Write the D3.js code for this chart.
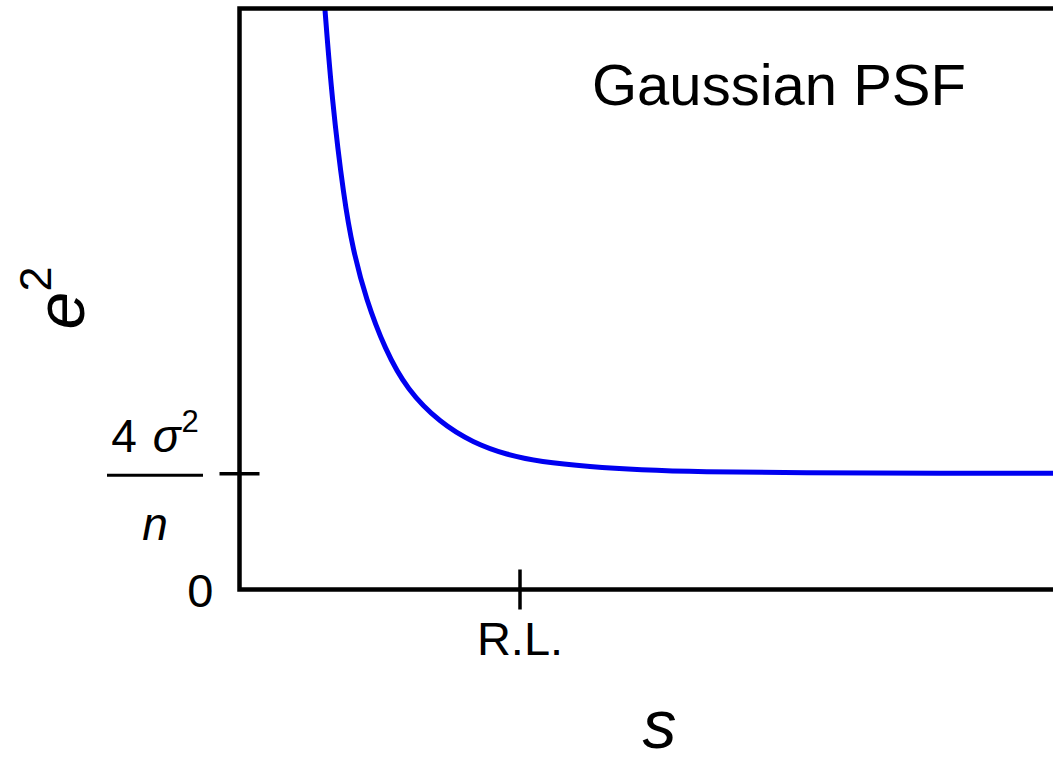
<!DOCTYPE html>
<html>
<head>
<meta charset="utf-8">
<script src="https://cdn.jsdelivr.net/npm/d3@7"></script>
<style>
  html, body { margin: 0; padding: 0; background: #fff; }
  svg { display: block; font-family: "Liberation Sans", Arial, sans-serif; }
</style>
</head>
<body>
<div id="chart"></div>
<script>
// data (s in units of R.L., e2 in units of 4σ²/n)
var sValues  = [0.300, 0.305, 0.330, 0.373, 0.405, 0.452, 0.520, 0.598, 0.716, 0.834, 0.955, 1.073, 1.252, 1.430, 1.645, 2.002, 2.500, 3.000, 3.000];
var e2Values = [5.150, 5.000, 4.220, 3.358, 2.927, 2.496, 2.065, 1.720, 1.435, 1.263, 1.159, 1.099, 1.056, 1.030, 1.013, 1.004, 1.001, 1.000, 1.000];
var xTickValues = [1];
var xTickLabels = ['R.L.'];
var yTickValues = [0, 1];
var yTickLabels = ['0', ''];
var title = 'Gaussian PSF';

// params
var width = 1053;
var height = 757;
var margin = { top: 8.5, left: 239.5 };
var plotWidth = 840;
var plotHeight = 581;
var lineWidth = 4.5;
var fontStack = '"Liberation Sans", Arial, sans-serif';

var svg = d3
  .select('#chart')
  .append('svg')
  .attr('width', width)
  .attr('height', height);

var g = svg
  .append('g')
  .attr('transform', `translate(${margin.left}, ${margin.top})`);

var x = d3.scaleLinear().domain([0, 3]).range([0, plotWidth]);
var y = d3.scaleLinear().domain([0, 5]).range([plotHeight, 0]);

// clip for the curve
g.append('clipPath')
  .attr('id', 'plot-clip')
  .append('rect')
  .attr('width', plotWidth)
  .attr('height', plotHeight);

// curve
var points = sValues.map((s, i) => [s, e2Values[i]]);
var line = d3
  .line()
  .x(d => x(d[0]))
  .y(d => y(d[1]))
  .curve(d3.curveBasis);

g.append('path')
  .datum(points)
  .attr('clip-path', 'url(#plot-clip)')
  .attr('fill', 'none')
  .attr('stroke', '#0000f0')
  .attr('stroke-width', 5)
  .attr('stroke-linejoin', 'round')
  .attr('d', line);

// frame
g.append('rect')
  .attr('width', plotWidth)
  .attr('height', plotHeight)
  .attr('fill', 'none')
  .attr('stroke', '#000')
  .attr('stroke-width', lineWidth);

// x axis
g.append('g')
  .attr('transform', `translate(0, ${plotHeight})`)
  .call(
    d3
      .axisBottom(x)
      .tickValues(xTickValues)
      .tickSize(20)
      .tickFormat((d, i) => xTickLabels[i])
  )
  .call(a => a.select('.domain').remove())
  .call(a =>
    a
      .selectAll('.tick line')
      .attr('y1', -20)
      .attr('stroke', '#000')
      .attr('stroke-width', 3.5)
  )
  .call(a =>
    a
      .selectAll('.tick text')
      .attr('y', 65.5)
      .attr('dy', null)
      .attr('fill', '#000')
      .style('font-family', fontStack)
      .style('font-size', '47px')
  );

// y axis
var yAxis = g
  .append('g')
  .call(
    d3
      .axisLeft(y)
      .tickValues(yTickValues)
      .tickSize(20)
      .tickFormat((d, i) => yTickLabels[i])
  )
  .call(a => a.select('.domain').remove());

yAxis
  .selectAll('.tick line')
  .attr('x1', d => (d === 0 ? 0 : 20))
  .attr('x2', d => (d === 0 ? 0 : -20))
  .attr('stroke', '#000')
  .attr('stroke-width', 3.5);

yAxis
  .selectAll('.tick text')
  .attr('x', -26)
  .attr('dy', '0.36em')
  .attr('fill', '#000')
  .style('font-family', fontStack)
  .style('font-size', '47px');

// fraction label 4σ²/n on the second y tick
var frac = yAxis
  .selectAll('.tick')
  .filter(d => d === 1)
  .append('g')
  .attr('transform', 'translate(-84.5, 0)')
  .attr('fill', '#000');

frac
  .append('line')
  .attr('x1', -48)
  .attr('x2', 48)
  .attr('y1', 1.5)
  .attr('y2', 1.5)
  .attr('stroke', '#000')
  .attr('stroke-width', 3);

var num = frac
  .append('text')
  .attr('text-anchor', 'middle')
  .attr('y', -21.5)
  .style('font-family', fontStack)
  .style('font-size', '46px');
num.append('tspan').text('4 ');
num
  .append('tspan')
  .attr('dx', 3)
  .style('font-style', 'italic')
  .text('σ');
num
  .append('tspan')
  .attr('dy', -20)
  .attr('dx', 1)
  .style('font-size', '31px')
  .text('2');

frac
  .append('text')
  .attr('text-anchor', 'middle')
  .attr('y', 66.5)
  .style('font-family', fontStack)
  .style('font-size', '46px')
  .style('font-style', 'italic')
  .text('n');

// axis titles
svg
  .append('text')
  .attr('x', margin.left + plotWidth / 2)
  .attr('y', 748)
  .attr('text-anchor', 'middle')
  .style('font-size', '68px')
  .style('font-style', 'italic')
  .text('s');

var yTitle = svg
  .append('text')
  .attr('transform', 'translate(84, 298) rotate(-90)')
  .attr('text-anchor', 'middle')
  .style('font-size', '68px')
  .style('font-style', 'italic');
yTitle.append('tspan').text('e');
yTitle
  .append('tspan')
  .attr('dy', -33)
  .style('font-size', '45px')
  .style('font-style', 'normal')
  .text('2');

// title inside the plot
svg
  .append('text')
  .attr('x', 592)
  .attr('y', 105)
  .style('font-size', '58px')
  .text(title);
</script>
</body>
</html>
